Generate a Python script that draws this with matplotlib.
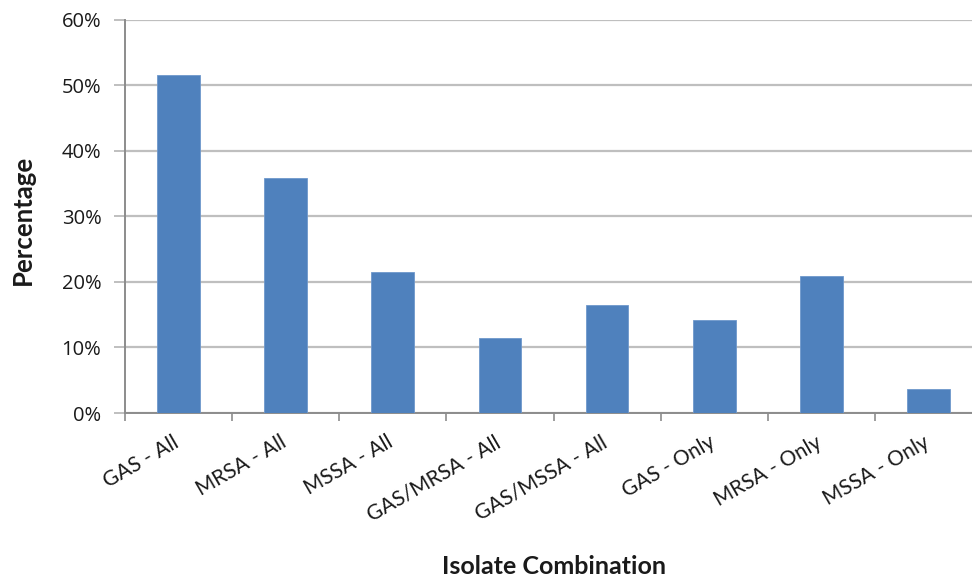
import matplotlib
matplotlib.use("Agg")
import matplotlib.pyplot as plt
from matplotlib.ticker import FuncFormatter, FixedLocator
from matplotlib.transforms import ScaledTranslation
import numpy as np

plt.rcParams['font.family'] = ['Lato', 'DejaVu Sans']

categories = ["GAS - All", "MRSA - All", "MSSA - All", "GAS/MRSA - All",
              "GAS/MSSA - All", "GAS - Only", "MRSA - Only", "MSSA - Only"]
percentages = [51.5, 35.8, 21.5, 11.4, 16.5, 14.2, 20.9, 3.7]
y_ticks = [0, 10, 20, 30, 40, 50, 60]

fig = plt.figure(figsize=(9.72, 5.77), dpi=100)
ax = fig.add_axes([0.1286, 0.2842, 0.8817, 0.682])

x = np.arange(len(categories))
ax.bar(x, percentages, width=0.4, color="#4F81BD", edgecolor="#6F98CC",
       linewidth=0.6, zorder=3)

ax.set_xlim(-0.5, len(categories) - 0.5)
ax.set_ylim(0, 60)
ax.set_yticks(y_ticks)
ax.yaxis.set_major_formatter(FuncFormatter(lambda v, p: f"{v:.0f}%"))
ax.grid(axis="y", color="#BFBFBF", linewidth=1.6, zorder=0)

# category labels, slanted and nudged down-left of each bar centre
ax.set_xticks(x)
ax.set_xticklabels(categories, rotation=30, ha="right", rotation_mode="anchor",
                   fontsize=15, color="#1a1a1a")
ax.tick_params(axis="x", which="major", length=0, pad=8)
shift = ScaledTranslation(-0.06, -0.08, fig.dpi_scale_trans)
for lbl in ax.get_xticklabels():
    lbl.set_transform(lbl.get_transform() + shift)

# separator ticks between categories
ax.xaxis.set_minor_locator(FixedLocator(np.arange(-0.5, len(categories), 1.0)))
ax.tick_params(axis="x", which="minor", length=6, width=1.2, color="#8C8C8C")

ax.tick_params(axis="y", length=8, width=1.4, color="#BFBFBF", pad=9)
for lbl in ax.get_yticklabels():
    lbl.set_fontfamily(["Open Sans", "DejaVu Sans"])
    lbl.set_fontsize(14.5)
    lbl.set_color("#1a1a1a")

for side in ("top", "right"):
    ax.spines[side].set_visible(False)
ax.spines["left"].set_color("#8C8C8C")
ax.spines["bottom"].set_color("#8C8C8C")
ax.spines["left"].set_linewidth(1.4)
ax.spines["bottom"].set_linewidth(1.4)

fig.text(0.5695, 0.019, "Isolate Combination", ha="center", va="center",
         fontsize=18, fontweight="bold", color="#1a1a1a")
fig.text(0.0237, 0.619, "Percentage", ha="center", va="center", rotation=90,
         fontsize=18.5, fontweight="bold", color="#1a1a1a")

fig.savefig("out.png", dpi=100)
